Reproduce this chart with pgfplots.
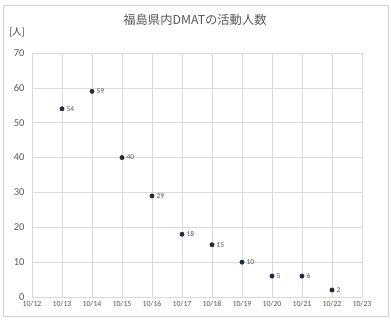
\documentclass[border=0pt]{standalone}
\usepackage{fontspec}
\setmainfont{Carlito}
\newfontfamily\cjk{Noto Sans CJK JP}
\usepackage{pgfplots}
\pgfplotsset{compat=1.18}
\definecolor{navy}{HTML}{1F2A44}
\definecolor{tick}{HTML}{595959}
\definecolor{gridc}{HTML}{D9D9D9}
\pgfplotstableread{
x y label
13 54 54
14 59 59
15 40 40
16 29 29
17 18 18
18 15 15
19 10 10
20 6 5
21 6 6
22 2 2
}\dmat
\begin{document}
\begin{tikzpicture}[x=1pt,y=1pt]
\useasboundingbox (0,0) rectangle (391,322);
\fill[white] (0,0) rectangle (391,322);
\draw[gray!35] (3,6) rectangle (388,317);
\node[text=tick] at (195,302) {\cjk\fontsize{12.3}{14}\selectfont 福島県内DMATの活動人数};
\node[text=black!75] at (17,290) {\cjk\fontsize{9.5}{10}\selectfont [人]};
\begin{axis}[
  at={(32pt,25pt)}, anchor=south west,
  scale only axis, width=330pt, height=244pt,
  xmin=12, xmax=23, ymin=0, ymax=70,
  xtick={12,...,23},
  xticklabels={10/12,10/13,10/14,10/15,10/16,10/17,10/18,10/19,10/20,10/21,10/22,10/23},
  ytick={0,10,...,70},
  grid=major, grid style={gridc, line width=0.6pt},
  axis line style={draw=none},
  tick style={draw=none},
  /pgf/number format/assume math mode=true,
  x tick label style={font=\fontsize{7.8}{8}\selectfont, text=tick, yshift=-1pt},
  y tick label style={font=\fontsize{10.5}{11}\selectfont, text=tick, xshift=-4pt},
  clip=false,
]
\addplot[only marks, mark=*, mark size=2.2pt, color=navy,
  nodes near coords, point meta=explicit symbolic,
  nodes near coords style={anchor=west, xshift=1pt, font=\fontsize{7.5}{8}\selectfont, text=tick}]
  table[x=x, y=y, meta=label] {\dmat};
\end{axis}
\end{tikzpicture}
\end{document}
